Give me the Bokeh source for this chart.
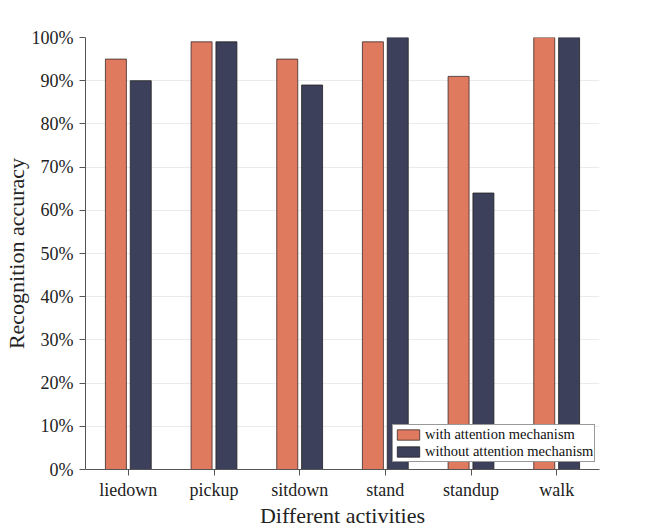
from bokeh.plotting import figure
from bokeh.models import ColumnDataSource, FixedTicker, PrintfTickFormatter, Range1d
from bokeh.transform import dodge
from bokeh.embed import file_html
from bokeh.resources import INLINE

activities = ["liedown", "pickup", "sitdown", "stand", "standup", "walk"]
with_attention = [95, 99, 95, 99, 91, 100]
without_attention = [90, 99, 89, 100, 64, 100]
y_ticks = [0, 10, 20, 30, 40, 50, 60, 70, 80, 90, 100]

src = ColumnDataSource(dict(x=activities, a=with_attention, b=without_attention))

FONT = "Liberation Serif"
p = figure(x_range=activities, y_range=Range1d(0, 100),
           frame_width=514, frame_height=432,
           output_backend="svg", toolbar_location=None,
           min_border_left=70, min_border_right=50, min_border_top=37, min_border_bottom=40)
p.outline_line_color = None

p.vbar(x=dodge("x", -0.145, range=p.x_range), top="a", width=0.245, source=src,
       fill_color="#E07A5F", line_color="#3a2a2a", line_width=0.8,
       legend_label="with attention mechanism")
p.vbar(x=dodge("x", 0.145, range=p.x_range), top="b", width=0.245, source=src,
       fill_color="#3D405B", line_color="#222222", line_width=0.8,
       legend_label="without attention mechanism")

p.yaxis.ticker = FixedTicker(ticks=y_ticks)
p.yaxis.formatter = PrintfTickFormatter(format="%d%%")
p.xgrid.grid_line_color = None
p.ygrid.grid_line_color = "#ebebeb"
p.ygrid.grid_line_width = 1

for ax in (p.xaxis[0], p.yaxis[0]):
    ax.axis_line_color = "#555555"
    ax.major_tick_line_color = "#555555"
    ax.minor_tick_line_color = None
    ax.major_tick_in = 0
    ax.major_tick_out = 6
    ax.major_label_text_font = FONT
    ax.major_label_text_font_size = "18px"
    ax.major_label_text_color = "#222222"
    ax.axis_label_text_font = FONT
    ax.axis_label_text_font_size = "22px"
    ax.axis_label_text_font_style = "normal"
    ax.axis_label_text_color = "#222222"

p.xaxis.axis_label = "Different activities"
p.yaxis.axis_label = "Recognition accuracy"
p.xaxis.major_label_standoff = 4
p.xaxis.axis_label_standoff = 0
p.yaxis.major_label_standoff = 6
p.yaxis.axis_label_standoff = 0

lg = p.legend[0]
lg.location = (307, 7)
lg.margin = 0
lg.padding = 1
lg.spacing = 0
lg.glyph_width = 28
lg.glyph_height = 13
lg.label_standoff = 3
lg.label_text_font = FONT
lg.label_text_font_size = "14.5px"
lg.label_text_color = "#111111"
lg.label_height = 13
lg.border_line_color = "#333333"
lg.border_line_width = 1
lg.background_fill_alpha = 1

open("out.html", "w").write(file_html(p, INLINE))
